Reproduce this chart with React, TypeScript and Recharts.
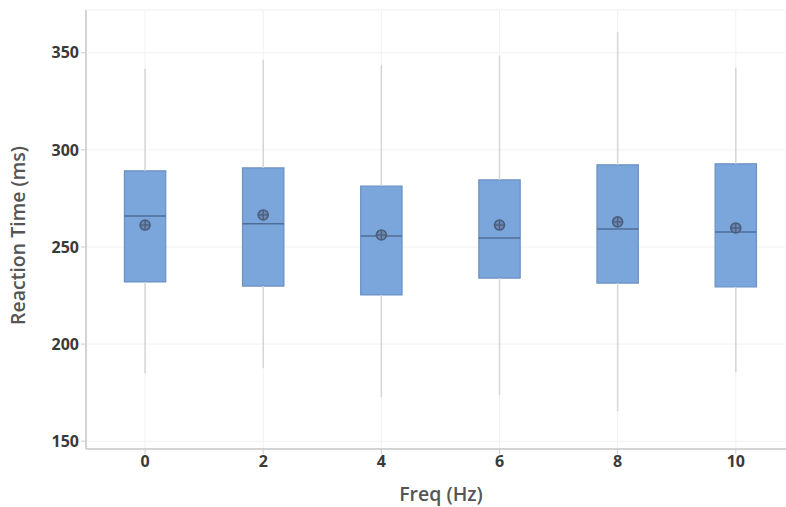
import React from "react";
import {
  ComposedChart,
  XAxis,
  YAxis,
  CartesianGrid,
  ReferenceArea,
  ReferenceLine,
  Scatter,
} from "recharts";

// box plot stats per frequency
const freqs = [0, 2, 4, 6, 8, 10];
const whiskerLow = [185, 187.6, 172.7, 173.7, 165.5, 185.6];
const q1 = [232, 229.9, 225.3, 234, 231.4, 229.4];
const medians = [266, 261.9, 255.7, 254.6, 259.3, 257.7];
const q3 = [289.2, 290.7, 281.4, 284.5, 292.3, 292.8];
const whiskerHigh = [341.8, 346.4, 343.8, 348.5, 360.8, 342.3];
const means = [261.3, 266.5, 256.2, 261.3, 262.9, 259.8];

const xTicks = [0, 2, 4, 6, 8, 10];
const yTicks = [150, 200, 250, 300, 350];

const HALF = 0.35;
const FONT = "'Open Sans', 'DejaVu Sans', sans-serif";

const data = freqs.map((f, i) => ({ freq: f, mean: means[i] }));

const MeanMarker = (props: any) => {
  const { cx, cy } = props;
  if (cx == null || cy == null) return null;
  return (
    <g>
      <circle cx={cx} cy={cy} r={5} fill="#6a87b3" stroke="#4a5d7a" strokeWidth={1.6} />
      <line x1={cx - 5} y1={cy} x2={cx + 5} y2={cy} stroke="#4a5d7a" strokeWidth={1.2} />
      <line x1={cx} y1={cy - 5} x2={cx} y2={cy + 5} stroke="#4a5d7a" strokeWidth={1.2} />
    </g>
  );
};

const tickStyle = { fontSize: 16, fontWeight: 700, fill: "#3a3a3a", fontFamily: FONT };
const titleStyle = { fontSize: 19.5, fontWeight: 600, fill: "#555", fontFamily: FONT };

export default function App() {
  return (
    <div style={{ position: "absolute", left: 0, top: 0, width: 786, height: 507, overflow: "hidden", background: "#fff" }}>
      <ComposedChart
        width={786}
        height={507}
        data={data}
        margin={{ top: 10, right: 0, left: 0, bottom: 0 }}
      >
        <CartesianGrid stroke="#f1f1f1" strokeWidth={1} />
        <XAxis
          dataKey="freq"
          type="number"
          domain={[-1, 10.85]}
          ticks={xTicks}
          allowDataOverflow
          height={58}
          tick={tickStyle}
          tickSize={5}
          tickLine={{ stroke: "#ccc" }}
          axisLine={{ stroke: "#c8c8c8", strokeWidth: 1.5 }}
          label={{
            value: "Freq (Hz)",
            position: "insideBottom",
            offset: 6,
            dx: 5,
            style: { ...titleStyle, textAnchor: "middle" },
          }}
        />
        <XAxis
          xAxisId="top"
          orientation="top"
          type="number"
          domain={[-1, 10.85]}
          height={0}
          tick={false}
          tickLine={false}
          axisLine={{ stroke: "#c8c8c8", strokeWidth: 1.5 }}
        />
        <YAxis
          type="number"
          domain={[146, 372]}
          ticks={yTicks}
          allowDataOverflow
          width={86}
          tick={tickStyle}
          tickSize={5}
          tickLine={{ stroke: "#ccc" }}
          axisLine={{ stroke: "#c8c8c8", strokeWidth: 1.5 }}
          label={{
            value: "Reaction Time (ms)",
            angle: -90,
            position: "insideLeft",
            offset: 18,
            dy: 6,
            style: { ...titleStyle, textAnchor: "middle" },
          }}
        />

        {freqs.map((f, i) => (
          <ReferenceLine
            key={`wl-${f}`}
            segment={[{ x: f, y: whiskerLow[i] }, { x: f, y: q1[i] }]}
            stroke="#d6d6d6"
            strokeWidth={1.5}
          />
        ))}
        {freqs.map((f, i) => (
          <ReferenceLine
            key={`wh-${f}`}
            segment={[{ x: f, y: q3[i] }, { x: f, y: whiskerHigh[i] }]}
            stroke="#d6d6d6"
            strokeWidth={1.5}
          />
        ))}
        {freqs.map((f, i) => (
          <ReferenceArea
            key={`box-${f}`}
            x1={f - HALF}
            x2={f + HALF}
            y1={q1[i]}
            y2={q3[i]}
            fill="#7ba6dc"
            fillOpacity={1}
            stroke="#6b90c2"
            strokeWidth={1.2}
          />
        ))}
        {freqs.map((f, i) => (
          <ReferenceLine
            key={`med-${f}`}
            segment={[{ x: f - HALF, y: medians[i] }, { x: f + HALF, y: medians[i] }]}
            stroke="#4f6d96"
            strokeWidth={1.5}
          />
        ))}

        <Scatter dataKey="mean" shape={<MeanMarker />} isAnimationActive={false} />
      </ComposedChart>
    </div>
  );
}
